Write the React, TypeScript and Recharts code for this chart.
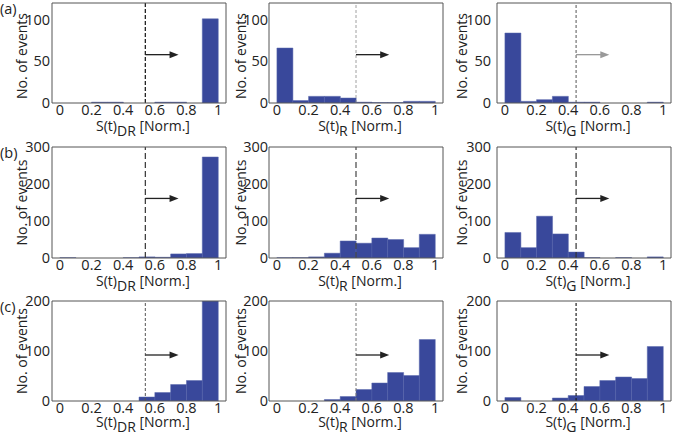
import React from 'react';
import { BarChart, Bar, XAxis, YAxis, ReferenceLine } from 'recharts';

// histogram bins (centres, width 0.1)
const bins = [0.05, 0.15, 0.25, 0.35, 0.45, 0.55, 0.65, 0.75, 0.85, 0.95];
const xTicks = [0, 0.2, 0.4, 0.6, 0.8, 1];

// counts per bin
const drA = [0, 0, 1, 1, 0, 0, 1, 1, 0, 101];
const rA = [66, 3, 8, 8, 6, 1, 0.5, 0.5, 2, 2];
const gA = [84, 2, 4, 8, 1, 1, 0, 0, 0, 1];
const drB = [1, 0, 0, 0, 1, 3, 2, 11, 12, 273];
const rB = [1, 1, 3, 13, 46, 40, 54, 50, 28, 64];
const gB = [69, 28, 113, 65, 16, 1, 0, 1, 0, 3];
const drC = [0, 0, 0, 0, 0, 8, 17, 33, 41, 200];
const rC = [0, 0, 0, 3, 9, 23, 36, 57, 51, 123];
const gC = [7, 0, 0, 6, 11, 29, 41, 48, 45, 109];

const rowValues = [
  [drA, rA, gA],
  [drB, rB, gB],
  [drC, rC, gC],
];

const rowMax = [120, 300, 200];
const rowTicks = [[0, 50, 100], [0, 100, 200, 300], [0, 50, 100, 150, 200]];
const rowLabelTicks = [[0, 50, 100], [0, 100, 200, 300], [0, 100, 200]];
const rowNames = ['(a)', '(b)', '(c)'];
const colNames = ['DR', 'R', 'G'];
const thresholdX = [0.54, 0.5, 0.45];
const arrowEndX = [0.75, 0.71, 0.66];
const arrowY = [58, 161, 92];

// layout
const FONT = '"Open Sans", sans-serif';
const BAR = '#39489b';
const colLeft = [52, 269, 497];
const rowTop = [3, 147, 301];
const rowH = [100, 111, 100];
const xLabelDrop = [28, 28, 26];
const yLabelShift = [3, 0, 0];
const yTickMargin = [2, 1, 6];
const yLabelGap = [25, 23, 30];
const plotW = 174;
const YW = 52;
const MT = 10;
const MR = 4;
const XH = 42;
const BOX = '#555';
const X_DOMAIN: [number, number] = [-0.05, 1.05];

const dashStyle = [
  [{ c: '#222', d: '4 2', w: 1.3 }, { c: '#888', d: '3 2', w: 0.8 }, { c: '#555', d: '3 2', w: 1 }],
  [{ c: '#333', d: '6 3', w: 1.2 }, { c: '#444', d: '6 3', w: 1.2 }, { c: '#333', d: '6 3', w: 1.2 }],
  [{ c: '#555', d: '3 2', w: 1 }, { c: '#777', d: '3 2', w: 1 }, { c: '#222', d: '3 2', w: 1.2 }],
];

const Arrow = (p: any) => {
  const { x1, y1, x2, y2, stroke } = p;
  return (
    <g>
      <line x1={x1} y1={y1} x2={x2 - 6} y2={y2} stroke={stroke} strokeWidth={1.3} />
      <polygon points={`${x2},${y2} ${x2 - 9},${y2 - 3.5} ${x2 - 9},${y2 + 3.5}`} fill={stroke} />
    </g>
  );
};

function Panel({ row, col }: { row: number; col: number }) {
  const values = rowValues[row][col];
  const data = bins.map((b, i) => ({ bin: String(b), x: b, n: values[i] }));
  const h = rowH[row];
  const max = rowMax[row];
  const pad = (plotW / 1.1) * 0.05;
  const ds = dashStyle[row][col];
  const arrowColor = row === 0 && col === 2 ? '#999' : '#222';
  const sub = colNames[col];

  return (
    <div style={{ position: 'absolute', left: colLeft[col] - YW, top: rowTop[row] - MT }}>
      <BarChart
        width={YW + plotW + MR}
        height={MT + h + XH}
        data={data}
        margin={{ top: MT, right: MR, bottom: 0, left: 0 }}
        barCategoryGap={0}
        barGap={0}
      >
        <XAxis xAxisId="bins" dataKey="bin" type="category" hide height={0} padding={{ left: pad, right: pad }} />
        <XAxis
          xAxisId="num"
          dataKey="x"
          type="number"
          domain={X_DOMAIN}
          allowDataOverflow
          ticks={xTicks}
          interval={0}
          height={XH}
          tickLine={false}
          tickSize={0}
          tickMargin={2}
          axisLine={{ stroke: BOX }}
          tick={{ fill: '#222', fontSize: 14.5, fontFamily: FONT }}
          label={{
            content: (lp: any) => {
              const vb = lp.viewBox;
              return (
                <text
                  x={vb.x + vb.width / 2 + 4}
                  y={vb.y + xLabelDrop[row]}
                  textAnchor="middle"
                  fill="#222"
                  fontSize={14}
                  fontFamily={FONT}
                >
                  S(t)
                  <tspan dy={4.5}>{sub}</tspan>
                  <tspan dy={-4.5}> [Norm.]</tspan>
                </text>
              );
            },
          }}
        />
        <XAxis
          xAxisId="top"
          dataKey="x"
          orientation="top"
          mirror
          type="number"
          domain={X_DOMAIN}
          allowDataOverflow
          ticks={xTicks}
          interval={0}
          height={1}
          tick={false}
          tickSize={3}
          tickLine={{ stroke: BOX }}
          axisLine={{ stroke: BOX }}
        />
        <XAxis
          xAxisId="bottomIn"
          dataKey="x"
          orientation="bottom"
          mirror
          type="number"
          domain={X_DOMAIN}
          allowDataOverflow
          ticks={xTicks}
          interval={0}
          height={1}
          tick={false}
          tickSize={3}
          tickLine={{ stroke: BOX }}
          axisLine={false}
        />
        <YAxis
          yAxisId="y"
          type="number"
          domain={[0, max]}
          allowDataOverflow
          ticks={rowTicks[row]}
          interval={0}
          width={YW}
          tickLine={false}
          tickSize={0}
          tickMargin={yTickMargin[col]}
          axisLine={{ stroke: BOX }}
          tickFormatter={(v: number) => (rowLabelTicks[row].includes(v) ? String(v) : '')}
          tick={{ fill: '#222', fontSize: 14.5, fontFamily: FONT }}
          label={{
            content: (lp: any) => {
              const vb = lp.viewBox;
              const cx = vb.x + YW - yLabelGap[col];
              const cy = vb.y + vb.height / 2 + yLabelShift[row];
              return (
                <text
                  x={cx}
                  y={cy}
                  transform={`rotate(-90, ${cx}, ${cy})`}
                  textAnchor="middle"
                  fill="#222"
                  fontSize={14}
                  fontFamily={FONT}
                >
                  No. of events
                </text>
              );
            },
          }}
        />
        <YAxis
          yAxisId="right"
          orientation="right"
          mirror
          type="number"
          domain={[0, max]}
          allowDataOverflow
          ticks={rowTicks[row]}
          interval={0}
          width={1}
          tick={false}
          tickSize={3}
          tickLine={{ stroke: BOX }}
          axisLine={{ stroke: BOX }}
        />
        <YAxis
          yAxisId="leftIn"
          orientation="left"
          mirror
          type="number"
          domain={[0, max]}
          allowDataOverflow
          ticks={rowTicks[row]}
          interval={0}
          width={1}
          tick={false}
          tickSize={3}
          tickLine={{ stroke: BOX }}
          axisLine={false}
        />
        <Bar
          xAxisId="bins"
          yAxisId="y"
          dataKey="n"
          fill={BAR}
          stroke="#5b68ad"
          strokeWidth={0.5}
          isAnimationActive={false}
        />
        <ReferenceLine
          xAxisId="num"
          yAxisId="y"
          x={thresholdX[col]}
          stroke={ds.c}
          strokeDasharray={ds.d}
          strokeWidth={ds.w}
        />
        <ReferenceLine
          xAxisId="num"
          yAxisId="y"
          segment={[
            { x: thresholdX[col], y: arrowY[row] },
            { x: arrowEndX[col], y: arrowY[row] },
          ]}
          stroke={arrowColor}
          shape={Arrow}
        />
      </BarChart>
    </div>
  );
}

export default function App() {
  return (
    <div
      style={{
        position: 'absolute',
        left: 0,
        top: 0,
        width: 676,
        height: 435,
        background: '#fff',
        overflow: 'hidden',
        fontFamily: FONT,
      }}
    >
      {rowNames.map((name, r) => (
        <div
          key={name}
          style={{
            position: 'absolute',
            left: 0,
            top: rowTop[r] - 1,
            fontSize: 14.5,
            lineHeight: '14px',
            color: '#222',
          }}
        >
          {name}
        </div>
      ))}
      {[0, 1, 2].map((r) => [0, 1, 2].map((c) => <Panel key={`${r}-${c}`} row={r} col={c} />))}
    </div>
  );
}
